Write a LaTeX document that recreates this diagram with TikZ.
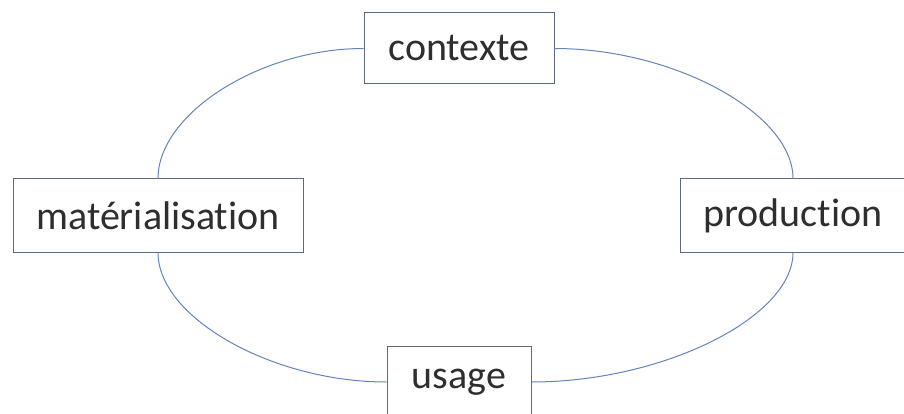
\documentclass[tikz,border=0pt]{standalone}
\usepackage{fontspec}
\setmainfont{Carlito}[Ligatures={NoCommon}]
\definecolor{linecol}{RGB}{100,132,192}
\definecolor{boxcol}{RGB}{95,105,125}
\begin{document}
\begin{tikzpicture}[x=1pt,y=-1pt,
  box/.style={draw=boxcol,line width=1pt,fill=white,rectangle,inner sep=0pt,
    font=\fontsize{40}{46}\selectfont,text=black!82},
  conn/.style={draw=linecol,line width=1pt}]
\useasboundingbox (0,0) rectangle (904,414);
\path[fill=white] (0,0) rectangle (904,414);
\node[box,minimum width=190pt,minimum height=71pt] (ctx) at (459,48.5) {contexte};
\node[box,minimum width=290pt,minimum height=73pt] (mat) at (158,215.5) {matérialisation};
\node[box,minimum width=226pt,minimum height=73pt] (prod) at (793,215.5) {production};
\node[box,minimum width=144pt,minimum height=72pt] (usg) at (459,382) {usage};
\draw[conn] (ctx.west) .. controls +(-103,0) and +(0,-65) .. (mat.north);
\draw[conn] (ctx.east) .. controls +(119.5,0) and +(0,-65) .. (prod.north);
\draw[conn] (mat.south) .. controls +(0,65) and +(-114.5,0) .. (usg.west);
\draw[conn] (usg.east) .. controls +(131,0) and +(0,65) .. (prod.south);
\end{tikzpicture}
\end{document}
